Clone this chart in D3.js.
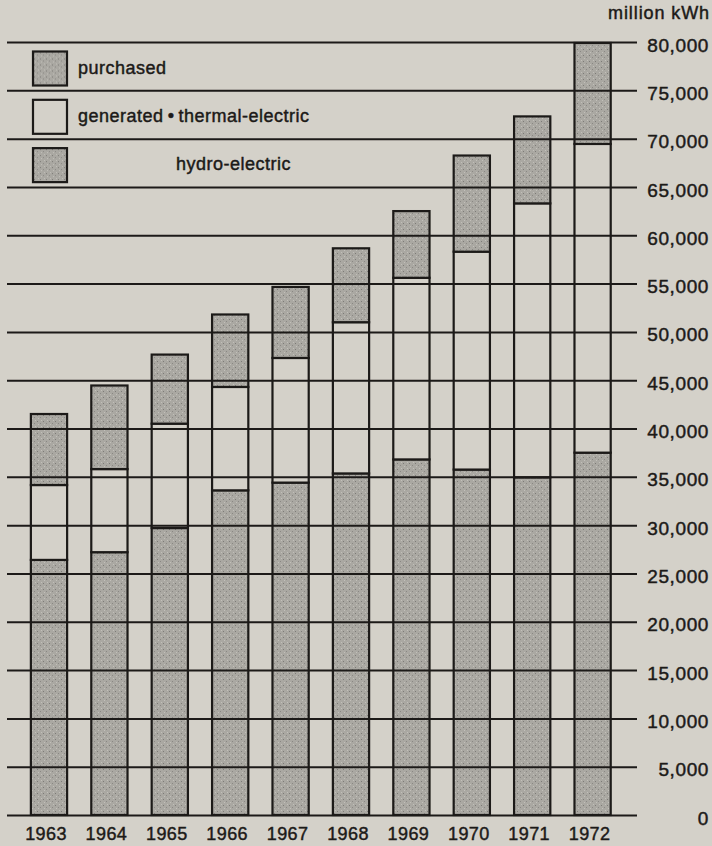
<!DOCTYPE html>
<html>
<head>
<meta charset="utf-8">
<script src="https://cdn.jsdelivr.net/npm/d3@7"></script>
<style>
  html, body { margin: 0; padding: 0; background: #d4d1c9; }
  svg { display: block; font-family: "Liberation Sans", Arial, sans-serif; }
  .lbl { stroke: #1c1a18; stroke-width: 0.45px; fill: #1c1a18; }
</style>
</head>
<body>
<svg id="chart"></svg>
<script>
const SIZE = { width: 712, height: 846 }

// values in million kWh
const years = ['1963', '1964', '1965', '1966', '1967', '1968', '1969', '1970', '1971', '1972']
const hydro = [26400, 27200, 29700, 33600, 34400, 35350, 36800, 35750, 34950, 37500]
const thermal = [7750, 8600, 10800, 10700, 12900, 15650, 18800, 22550, 28350, 31950]
const purchased = [7350, 8650, 7150, 7500, 7350, 7650, 6900, 9950, 9000, 10450]
const yTicks = d3.range(0, 80001, 5000)
const legendItems = [
  { key: 'purchased', label: 'purchased', dx: 0 },
  { key: 'thermal', label: 'generated\u2009\u2022\u2009thermal-electric', dx: 0 },
  { key: 'hydro', label: 'hydro-electric', dx: 98 }
]

const svg = d3.select('#chart')
  .attr('width', SIZE.width)
  .attr('height', SIZE.height)

const bg = '#d4d1c9'
const ink = '#1c1a18'

// stipple texture for the shaded segments
const defs = svg.append('defs')
const pat = defs.append('pattern')
  .attr('id', 'stipple')
  .attr('patternUnits', 'userSpaceOnUse')
  .attr('width', 6)
  .attr('height', 6)
pat.append('rect').attr('width', 6).attr('height', 6).attr('fill', '#aaa8a2')
pat.append('rect').attr('x', 1).attr('y', 1).attr('width', 1).attr('height', 1).attr('fill', '#7d7b77')
pat.append('rect').attr('x', 4).attr('y', 3).attr('width', 1).attr('height', 1).attr('fill', '#8a8884')
pat.append('rect').attr('x', 2).attr('y', 4).attr('width', 1).attr('height', 1).attr('fill', '#c2c0ba')
pat.append('rect').attr('x', 5).attr('y', 0).attr('width', 1).attr('height', 1).attr('fill', '#c2c0ba')

const fills = { hydro: 'url(#stipple)', thermal: bg, purchased: 'url(#stipple)' }

const x = d3.scaleBand()
  .domain(years)
  .range([18.8, 622.8])
  .paddingInner(0.4)
  .paddingOuter(0.2)

const y = d3.scaleLinear()
  .domain([0, 80000])
  .range([815, 42])

const rows = years.map((yr, i) => ({ year: yr, hydro: hydro[i], thermal: thermal[i], purchased: purchased[i] }))
const series = d3.stack().keys(['hydro', 'thermal', 'purchased'])(rows)

svg.append('g')
  .selectAll('g')
  .data(series)
  .join('g')
    .attr('fill', d => fills[d.key])
  .selectAll('rect')
  .data(d => d)
  .join('rect')
    .attr('x', d => x(d.data.year))
    .attr('y', d => y(d[1]))
    .attr('width', x.bandwidth())
    .attr('height', d => y(d[0]) - y(d[1]))
    .attr('stroke', ink)
    .attr('stroke-width', 2.2)

// gridlines + right labels
const gridRight = 637
const yAxis = d3.axisRight(y)
  .tickValues(yTicks)
  .tickSize(-(gridRight - 7))
  .tickFormat(d3.format(','))

const axisG = svg.append('g')
  .attr('transform', `translate(${gridRight},0)`)
  .call(yAxis)
axisG.select('.domain').remove()
axisG.selectAll('.tick line')
  .attr('stroke', ink)
  .attr('stroke-width', 2)
axisG.selectAll('.tick text')
  .attr('class', 'lbl')
  .attr('x', 72)
  .attr('y', 3)
  .attr('text-anchor', 'end')
  .attr('font-size', 19)
  .style('letter-spacing', '0.6px')
  .style('font-family', '"Liberation Sans", Arial, sans-serif')

svg.append('text')
  .attr('class', 'lbl')
  .attr('x', 710)
  .attr('y', 19)
  .attr('text-anchor', 'end')
  .attr('font-size', 18)
  .style('letter-spacing', '0.9px')
  .text('million kWh')

// year labels
const xAxis = d3.axisBottom(x).tickSize(0).tickPadding(0)
const xG = svg.append('g')
  .attr('transform', 'translate(-3,827)')
  .call(xAxis)
xG.select('.domain').remove()
xG.selectAll('text')
  .attr('class', 'lbl')
  .attr('font-size', 18)
  .style('letter-spacing', '0.4px')
  .style('font-family', '"Liberation Sans", Arial, sans-serif')

// legend between the top gridlines
const legend = svg.append('g')
  .selectAll('g')
  .data(legendItems)
  .join('g')
    .attr('transform', (d, i) => `translate(33, ${y(80000 - i * 5000) + 9.5})`)

legend.append('rect')
  .attr('width', 34)
  .attr('height', 34)
  .attr('fill', d => fills[d.key])
  .attr('stroke', ink)
  .attr('stroke-width', 2.2)

legend.append('text')
  .attr('class', 'lbl')
  .attr('x', d => 45 + d.dx)
  .attr('y', 22)
  .attr('font-size', 18)
  .style('letter-spacing', '0.5px')
  .text(d => d.label)
</script>
</body>
</html>
